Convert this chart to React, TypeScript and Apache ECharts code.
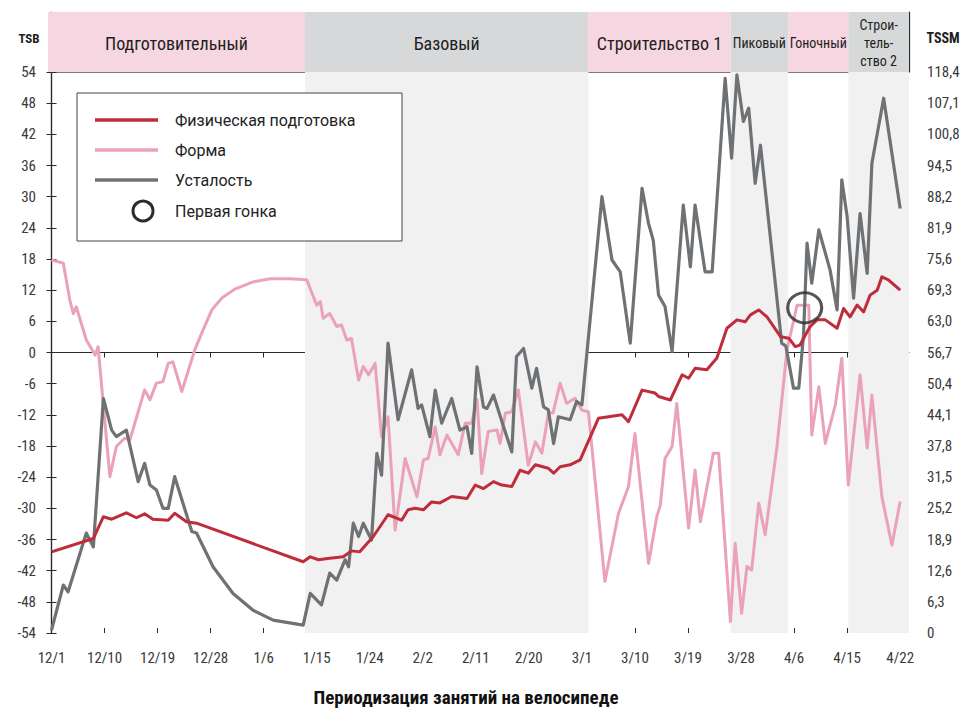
import React, { useEffect, useRef } from "react";
import * as echarts from "echarts";

// ---------- data ----------
const xTickLabels = ["12/1", "12/10", "12/19", "12/28", "1/6", "1/15", "1/24", "2/2", "2/11", "2/20", "3/1", "3/10", "3/19", "3/28", "4/6", "4/15", "4/22"];
const xTickStepDays = 9;
const tssmTickLabels = ["0", "6,3", "12,6", "18,9", "25,2", "31,5", "37,8", "44,1", "50,4", "56,7", "63,0", "69,3", "75,6", "81,9", "88,2", "94,5", "100,8", "107,1", "118,4"];
const tssmTickStep = 6.3;

const phaseNames = ["Подготовительный", "Базовый", "Строительство 1", "Пиковый", "Гоночный", "Строи-\nтель-\nство 2"];
const phaseStarts = [-0.6, 43.0, 91.1, 115.2, 125.0, 135.2];
const phaseEnds = [43.0, 91.1, 115.2, 125.0, 135.2, 145.5];
const phaseKinds = [0, 1, 0, 1, 0, 1]; // 0 = pink, 1 = gray

// Физическая подготовка (CTL, right axis TSSM)
const fitnessDays = [0, 7.1, 8.8, 10.2, 12.7, 14.4, 15.8, 17.2, 19.8, 20.9, 22.9, 24.6, 42.7, 43.9, 45.3, 47.2, 49.5, 50.9, 52.3, 54.6, 57.1, 59.4, 60.5, 61.7, 63.1, 64.5, 65.9, 67.9, 70.5, 71.9, 73.3, 75.0, 76.4, 78.1, 79.5, 80.9, 82.1, 84.3, 85.2, 86.3, 88.0, 89.7, 92.8, 96.8, 97.9, 100.2, 102.4, 103.0, 105.0, 107.0, 108.1, 109.2, 111.2, 112.9, 114.6, 116.3, 117.7, 118.6, 120.0, 121.4, 123.7, 125.1, 126.2, 127.0, 128.7, 129.9, 131.3, 133.3, 134.4, 135.5, 136.7, 137.8, 138.9, 140.1, 140.9, 142.0, 144.0];
const fitnessTSSM = [16.4, 19.1, 23.5, 23.0, 24.3, 23.3, 24.1, 23.0, 22.8, 24.2, 22.5, 22.2, 14.4, 15.4, 14.8, 15.1, 15.4, 16.6, 16.4, 19.5, 23.9, 22.8, 24.9, 25.2, 24.9, 26.5, 26.3, 27.6, 27.2, 29.9, 29.2, 30.6, 29.9, 29.6, 32.9, 32.3, 34.0, 33.3, 32.3, 33.6, 34.0, 35.0, 43.4, 44.1, 42.7, 49.1, 48.5, 47.8, 47.1, 52.2, 51.5, 53.5, 53.2, 55.6, 61.6, 63.3, 62.9, 64.3, 65.3, 63.9, 59.9, 59.6, 57.9, 58.2, 61.9, 63.3, 63.3, 61.6, 65.6, 63.9, 66.3, 64.9, 68.3, 69.3, 72.0, 71.4, 69.3];

// Усталость (ATL, right axis TSSM)
const fatigueDays = [0, 2.0, 2.8, 5.9, 7.1, 8.8, 10.2, 11.0, 12.7, 14.7, 15.8, 16.7, 17.8, 18.9, 19.8, 20.9, 23.8, 24.6, 27.4, 30.8, 34.2, 37.6, 42.7, 43.9, 45.8, 47.2, 48.4, 49.8, 50.4, 51.2, 52.1, 52.9, 54.3, 55.2, 56.0, 57.1, 58.8, 61.1, 62.2, 62.8, 64.2, 65.1, 66.2, 67.9, 69.3, 70.5, 71.3, 72.2, 73.3, 73.9, 75.0, 76.7, 78.1, 78.9, 80.1, 81.5, 82.3, 83.5, 84.3, 85.2, 86.0, 88.0, 89.1, 90.0, 93.4, 95.1, 96.5, 98.2, 100.2, 101.3, 102.1, 103.0, 104.1, 105.3, 107.2, 108.4, 109.2, 110.9, 112.1, 114.3, 115.4, 116.3, 117.4, 118.3, 119.4, 120.3, 123.9, 124.6, 125.9, 126.8, 127.6, 128.2, 129.0, 130.2, 132.1, 133.3, 134.1, 135.0, 136.1, 137.2, 138.4, 139.2, 141.2, 144.0];
const fatigueTSSM = [0.6, 9.7, 8.3, 20.2, 17.4, 47.4, 41.0, 39.7, 41.0, 30.6, 34.3, 29.9, 28.9, 25.2, 25.2, 31.6, 20.5, 20.2, 13.4, 8.0, 4.6, 2.6, 1.6, 8.0, 5.7, 12.1, 10.7, 14.8, 13.4, 22.2, 19.5, 22.2, 18.8, 36.3, 31.9, 58.6, 43.1, 53.2, 45.4, 46.1, 39.7, 49.1, 42.4, 47.4, 41.0, 41.7, 36.3, 53.8, 45.7, 45.4, 48.1, 41.7, 36.6, 55.9, 57.5, 49.5, 53.5, 45.7, 45.1, 38.3, 43.7, 43.1, 46.8, 46.1, 88.2, 75.4, 73.0, 58.6, 89.9, 82.8, 79.4, 68.3, 66.0, 56.9, 86.5, 74.0, 86.5, 73.0, 73.0, 112.1, 96.0, 112.8, 103.4, 106.1, 90.9, 98.6, 58.6, 58.0, 49.5, 49.5, 60.2, 78.8, 70.7, 81.5, 73.4, 65.3, 91.6, 84.2, 67.7, 84.8, 72.7, 94.9, 108.1, 85.8];

// Форма (TSB, left axis)
const formDays = [0, 2.0, 3.1, 3.7, 4.2, 5.9, 7.4, 7.9, 9.9, 11.0, 12.4, 13.3, 15.8, 16.7, 17.8, 18.9, 19.8, 20.6, 22.1, 24.3, 25.7, 27.2, 28.9, 31.1, 34.2, 37.1, 40.4, 43.3, 45.0, 45.6, 46.1, 47.2, 48.4, 49.2, 50.1, 50.9, 52.1, 52.9, 53.8, 54.9, 56.0, 57.1, 58.3, 60.0, 62.0, 63.1, 63.9, 65.1, 65.9, 67.1, 69.0, 70.2, 71.3, 72.2, 73.0, 74.1, 75.6, 76.1, 77.0, 78.1, 79.2, 80.9, 82.1, 83.2, 84.3, 85.1, 86.3, 87.4, 88.8, 90.0, 91.1, 93.9, 96.2, 97.9, 99.0, 101.3, 102.7, 103.3, 104.1, 105.3, 106.1, 108.1, 109.2, 110.1, 112.3, 113.2, 115.2, 116.0, 117.1, 118.0, 118.8, 120.0, 121.1, 123.1, 124.8, 126.5, 128.5, 128.7, 129.0, 130.2, 131.3, 133.0, 134.1, 135.2, 137.2, 138.4, 139.2, 140.9, 142.6, 144.0];
const formTSB = [17.8, 17.2, 10.1, 7.5, 8.8, 2.4, -0.5, 1.1, -23.9, -18.1, -16.5, -16.8, -7.2, -9.1, -5.9, -5.6, -2.1, -1.8, -7.5, 0.5, 4.3, 8.2, 10.5, 12.2, 13.6, 14.2, 14.2, 14.0, 9.1, 9.8, 6.6, 7.5, 5.0, 5.3, 2.4, 2.7, -5.3, -2.7, -4.3, -2.1, -16.2, -12.4, -34.2, -20.4, -27.8, -20.7, -20.4, -14.3, -19.7, -15.9, -19.7, -13.6, -13.6, -9.1, -23.3, -15.2, -14.9, -17.5, -11.7, -11.4, -7.2, -21.7, -17.2, -19.4, -11.7, -11.6, -5.9, -9.8, -8.8, -11.1, -11.4, -44.1, -31.0, -25.8, -15.6, -40.6, -31.6, -29.4, -20.4, -18.1, -9.8, -33.8, -22.6, -32.6, -19.4, -19.4, -51.8, -36.7, -50.2, -41.2, -41.9, -29.0, -35.1, -18.1, 0.5, 9.1, 9.1, -1.4, -15.9, -6.6, -17.5, -10.1, -1.1, -25.5, -4.3, -18.4, -8.2, -27.8, -37.1, -28.7];

// Первая гонка
const firstRaceDay = [127.8];
const firstRaceTSB = [8.6];

// ---------- styling ----------
const NARROW = "'Liberation Sans Narrow', 'Roboto Condensed', 'DejaVu Sans Condensed', 'Liberation Sans', sans-serif";
const LEGEND_FONT = "Roboto, 'Liberation Sans', sans-serif";
const RED = "#bf2d3b";
const PINK = "#eba2b8";
const GRAY = "#6f7275";
const BAND_PINK = "#f6d6e1";
const BAND_GRAY = "#d6d8d9";
const AXIS = "#2a2a2a";
const X_MIN = -0.6;
const X_MAX = 145.5;

const xTickValues = xTickLabels.map((_, i) => i * xTickStepDays);
const tssmTickValues = tssmTickLabels.map((_, i) => Math.round(i * tssmTickStep * 10) / 10);

function buildOption(): any {
  const phaseData = phaseStarts.map((s, i) => [s, phaseEnds[i], phaseKinds[i]]);
  const grayShade = phaseStarts
    .map((s, i) => ({ s, e: phaseEnds[i], k: phaseKinds[i] }))
    .filter((p) => p.k === 1)
    .map((p) => [{ xAxis: p.s }, { xAxis: p.e }]);

  const legendZ = 100;
  const legendText = (text: string, y: number) => ({
    type: "text", z: legendZ + 2, x: 175, y,
    style: { text, fill: "#222", fontSize: 16, fontFamily: LEGEND_FONT, verticalAlign: "middle" },
  });

  return {
    animation: false,
    backgroundColor: "#ffffff",
    grid: [
      { left: 48, right: 55, top: 72, bottom: 79 },
      { left: 48, right: 55, top: 12, height: 60, show: false },
    ],
    xAxis: [
      {
        gridIndex: 0, type: "value", min: X_MIN, max: X_MAX, position: "bottom",
        axisLine: { show: true, lineStyle: { color: AXIS, width: 1.2 } },
        axisTick: { show: true, customValues: xTickValues, length: 5, lineStyle: { color: AXIS, width: 1 } },
        axisLabel: {
          show: true, customValues: xTickValues, margin: 17, fontSize: 15, color: "#3a3a3a", fontFamily: NARROW,
          formatter: (v: number) => xTickLabels[Math.round(v / xTickStepDays)] ?? "",
        },
        splitLine: { show: false },
      },
      {
        gridIndex: 0, type: "value", min: X_MIN, max: X_MAX, position: "bottom",
        axisLine: { show: false },
        axisTick: { show: true, inside: true, customValues: xTickValues, length: 5, lineStyle: { color: AXIS, width: 1 } },
        axisLabel: { show: false },
        splitLine: { show: false },
      },
      {
        gridIndex: 1, type: "value", min: X_MIN, max: X_MAX, position: "top",
        axisLine: { show: true, lineStyle: { color: "#7a7a7a", width: 1.2 } },
        axisTick: { show: false }, axisLabel: { show: false }, splitLine: { show: false },
      },
    ],
    yAxis: [
      {
        gridIndex: 0, type: "value", min: -54, max: 54, interval: 6, position: "left",
        axisLine: { show: true, lineStyle: { color: AXIS, width: 1.2 } },
        axisTick: { show: true, length: 5, lineStyle: { color: AXIS } },
        axisLabel: { margin: 12, fontSize: 15, color: "#3a3a3a", fontFamily: NARROW },
        splitLine: { show: false },
      },
      {
        gridIndex: 0, type: "value", min: 0, max: 113.4, position: "right",
        axisLine: { show: true, lineStyle: { color: AXIS, width: 1.2 } },
        axisTick: { show: true, length: 5, customValues: tssmTickValues, lineStyle: { color: AXIS } },
        axisLabel: {
          margin: 18, fontSize: 15, color: "#3a3a3a", fontFamily: NARROW, customValues: tssmTickValues,
          formatter: (v: number) => tssmTickLabels[Math.round(v / tssmTickStep)] ?? "",
        },
        splitLine: { show: false },
      },
      {
        gridIndex: 1, type: "value", min: 0, max: 1, position: "left",
        axisLine: { show: true, lineStyle: { color: AXIS, width: 1.2 } },
        axisTick: { show: false }, axisLabel: { show: false }, splitLine: { show: false },
      },
      {
        gridIndex: 1, type: "value", min: 0, max: 1, position: "right",
        axisLine: { show: true, lineStyle: { color: AXIS, width: 1.2 } },
        axisTick: { show: false }, axisLabel: { show: false }, splitLine: { show: false },
      },
    ],
    series: [
      {
        type: "custom",
        name: "phases",
        xAxisIndex: 2,
        yAxisIndex: 2,
        silent: true,
        z: 1,
        data: phaseData,
        renderItem: (params: any, api: any) => {
          const s = api.value(0);
          const e = api.value(1);
          const k = api.value(2);
          const p0 = api.coord([s, 1]);
          const p1 = api.coord([e, 0]);
          const idx = params.dataIndex;
          const small = idx >= 3;
          return {
            type: "rect",
            shape: { x: p0[0], y: p0[1], width: p1[0] - p0[0], height: p1[1] - p0[1] },
            style: { fill: k === 0 ? BAND_PINK : BAND_GRAY },
            textContent: {
              style: {
                text: phaseNames[idx],
                fill: "#1e1e1e",
                fontSize: small ? 14 : 18,
                fontFamily: NARROW,
                lineHeight: 18,
                align: "center",
              },
            },
            textConfig: { position: "inside", offset: [0, 1] },
          };
        },
      },
      {
        type: "line",
        name: "Форма",
        xAxisIndex: 0,
        yAxisIndex: 0,
        data: formDays.map((d, i) => [d, formTSB[i]]),
        showSymbol: false,
        symbol: "none",
        lineStyle: { color: PINK, width: 3, join: "round" },
        z: 3,
        markArea: {
          silent: true,
          itemStyle: { color: "#f1f1f2" },
          data: grayShade,
        },
      },
      {
        type: "line",
        name: "Усталость",
        xAxisIndex: 0,
        yAxisIndex: 1,
        data: fatigueDays.map((d, i) => [d, fatigueTSSM[i]]),
        showSymbol: false,
        symbol: "none",
        lineStyle: { color: GRAY, width: 3.2, join: "round" },
        z: 4,
      },
      {
        type: "line",
        name: "Физическая подготовка",
        xAxisIndex: 0,
        yAxisIndex: 1,
        data: fitnessDays.map((d, i) => [d, fitnessTSSM[i]]),
        showSymbol: false,
        symbol: "none",
        lineStyle: { color: RED, width: 3, join: "round" },
        z: 5,
      },
      {
        type: "scatter",
        name: "Первая гонка",
        xAxisIndex: 0,
        yAxisIndex: 0,
        data: firstRaceDay.map((d, i) => [d, firstRaceTSB[i]]),
        symbol: "circle",
        symbolSize: [34, 30],
        itemStyle: { color: "rgba(0,0,0,0)", borderColor: "#2b2b2b", borderWidth: 3 },
        z: 6,
        silent: true,
      },
    ],
    graphic: [
      { type: "text", x: 29, y: 38, z: 50, style: { text: "TSB", fill: "#1e1e1e", fontSize: 13, fontWeight: "bold", fontFamily: NARROW, align: "center", verticalAlign: "middle" } },
      { type: "text", x: 943, y: 38, z: 50, style: { text: "TSSM", fill: "#1e1e1e", fontSize: 14, fontWeight: "bold", fontFamily: NARROW, align: "center", verticalAlign: "middle" } },
      { type: "rect", z: legendZ, shape: { x: 77, y: 93, width: 325, height: 148 }, style: { fill: "#ffffff", stroke: "#444", lineWidth: 1 } },
      { type: "line", z: legendZ + 1, shape: { x1: 95, y1: 120, x2: 158, y2: 120 }, style: { stroke: RED, lineWidth: 3.5 } },
      { type: "line", z: legendZ + 1, shape: { x1: 95, y1: 150, x2: 158, y2: 150 }, style: { stroke: PINK, lineWidth: 3.5 } },
      { type: "line", z: legendZ + 1, shape: { x1: 95, y1: 180, x2: 158, y2: 180 }, style: { stroke: GRAY, lineWidth: 3.5 } },
      { type: "circle", z: legendZ + 1, shape: { cx: 143, cy: 211, r: 10 }, style: { fill: "none", stroke: "#2b2b2b", lineWidth: 3 } },
      legendText("Физическая подготовка", 120),
      legendText("Форма", 150),
      legendText("Усталость", 180),
      legendText("Первая гонка", 211),
      { type: "text", x: 466, y: 697, z: 50, style: { text: "Периодизация занятий на велосипеде", fill: "#111", fontSize: 19, fontWeight: "bold", fontFamily: NARROW, align: "center", verticalAlign: "middle" } },
    ],
  };
}

export default function App() {
  const ref = useRef<HTMLDivElement>(null);
  useEffect(() => {
    if (!ref.current) return;
    const chart = echarts.init(ref.current, null, { renderer: "svg" });
    chart.setOption(buildOption());
    return () => chart.dispose();
  }, []);
  return (
    <div
      ref={ref}
      style={{ position: "fixed", left: 0, top: 0, width: 964, height: 712, background: "#ffffff" }}
    />
  );
}
